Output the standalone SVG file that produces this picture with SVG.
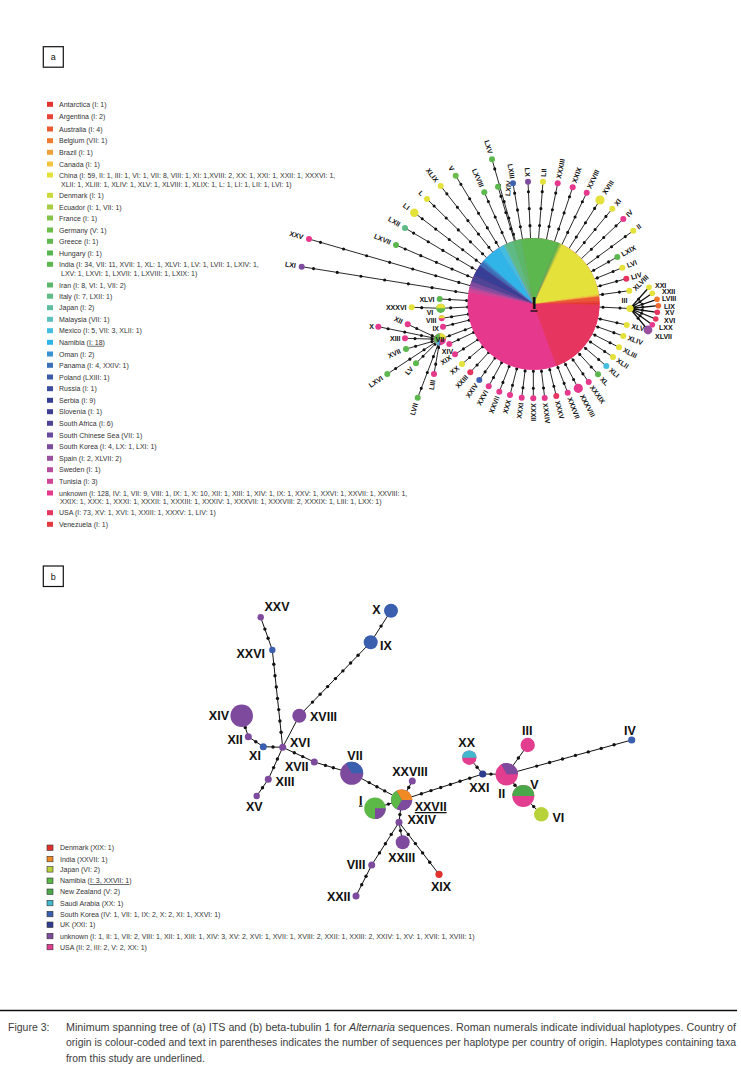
<svg xmlns="http://www.w3.org/2000/svg" width="741" height="1072" viewBox="0 0 741 1072">
<style>
text{font-family:"Liberation Sans",Arial,Helvetica,sans-serif}
.lg{font-size:7px;fill:#333}
.la{font-size:7px;font-weight:bold;fill:#111}
.lb{font-size:12.5px;font-weight:bold;fill:#111}
.e{text-anchor:end}
.m{text-anchor:middle}
.sp{stroke:#111;stroke-width:0.9;fill:none}
.dt{stroke:#111;stroke-width:3.1;stroke-linecap:round;stroke-dasharray:0 17;stroke-dashoffset:7;fill:none}
.dl{stroke-dasharray:0 24;stroke-dashoffset:12}
.fan{stroke:#111;stroke-width:1.3;fill:none}
.bl{stroke:#111;stroke-width:1;fill:none}
.dk{fill:#111}
.cap{font-size:10.5px;fill:#3c3c3c}
.box{fill:#fff;stroke:#111;stroke-width:1.2}
.sq{stroke:#333;stroke-width:0.6}
.pk{fill:#e6388c}.us{fill:#e6365f}.yl{fill:#e4e23a}.gr{fill:#5cb84e}.pu{fill:#7e4c9f}.bu{fill:#3f62b0}.cy{fill:#45bde0}.og{fill:#ef7a2e}.tl{fill:#5ebb86}.sn{fill:#9b4f9f}.de{fill:#6dbd4c}
.bp{fill:#7e4a9e}.bb{fill:#3a5fae}
</style>

<!-- panel labels -->
<g id="label-a"><rect class="box" x="43.3" y="46.7" width="20" height="20.5"/><text x="53.3" y="60" class="m" font-size="9" fill="#111">a</text></g>
<g id="label-b"><rect class="box" x="43.3" y="566" width="20" height="20.5"/><text x="53.3" y="579.5" class="m" font-size="9" fill="#111">b</text></g>

<!-- legend a -->
<g id="legend-a">
<rect x="47" y="101.8" width="6" height="5" fill="#e2342f"/><text class="lg" x="59" y="106.8">Antarctica (I: 1)</text>
<rect x="47" y="114.2" width="6" height="5" fill="#e8453a"/><text class="lg" x="59" y="119.2">Argentina (I: 2)</text>
<rect x="47" y="126.5" width="6" height="5" fill="#ea5a32"/><text class="lg" x="59" y="131.5">Australia (I: 4)</text>
<rect x="47" y="138.2" width="6" height="5" fill="#ee7d31"/><text class="lg" x="59" y="143.2">Belgium (VII: 1)</text>
<rect x="47" y="149.8" width="6" height="5" fill="#f0a03a"/><text class="lg" x="59" y="154.8">Brazil (I: 1)</text>
<rect x="47" y="161.5" width="6" height="5" fill="#f3c43d"/><text class="lg" x="59" y="166.5">Canada (I: 1)</text>
<rect x="47" y="172.5" width="6" height="5" fill="#e4e23a"/><text class="lg" x="59" y="177.5">China (I: 59, II: 1, III: 1, VI: 1, VII: 8, VIII: 1, XI: 1,XVIII: 2, XX: 1, XXI: 1, XXII: 1, XXXVI: 1,</text>
<text class="lg" x="61" y="186.8">XLII: 1, XLIII: 1, XLIV: 1, XLV: 1, XLVIII: 1, XLIX: 1, L: 1, LI: 1, LII: 1, LVI: 1)</text>
<rect x="47" y="192.8" width="6" height="5" fill="#c9d93b"/><text class="lg" x="59" y="197.8">Denmark (I: 1)</text>
<rect x="47" y="204.5" width="6" height="5" fill="#a8cd43"/><text class="lg" x="59" y="209.5">Ecuador (I: 1, VII: 1)</text>
<rect x="47" y="215.5" width="6" height="5" fill="#86c349"/><text class="lg" x="59" y="220.5">France (I: 1)</text>
<rect x="47" y="227.5" width="6" height="5" fill="#6dbd4c"/><text class="lg" x="59" y="232.5">Germany (V: 1)</text>
<rect x="47" y="238.8" width="6" height="5" fill="#5fb84d"/><text class="lg" x="59" y="243.8">Greece (I: 1)</text>
<rect x="47" y="250.5" width="6" height="5" fill="#57b44f"/><text class="lg" x="59" y="255.5">Hungary (I: 1)</text>
<rect x="47" y="261.8" width="6" height="5" fill="#5cb84e"/><text class="lg" x="59" y="266.8">India (I: 34, VII: 11, XVII: 1, XL: 1, XLVI: 1, LV: 1, LVII: 1, LXIV: 1,</text>
<text class="lg" x="61" y="276.2">LXV: 1, LXVI: 1, LXVII: 1, LXVIII: 1, LXIX: 1)</text>
<rect x="47" y="282.5" width="6" height="5" fill="#5cb76a"/><text class="lg" x="59" y="287.5">Iran (I: 8, VI: 1, VII: 2)</text>
<rect x="47" y="293.7" width="6" height="5" fill="#5ebb86"/><text class="lg" x="59" y="298.7">Italy (I: 7, LXII: 1)</text>
<rect x="47" y="305.2" width="6" height="5" fill="#60bea0"/><text class="lg" x="59" y="310.2">Japan (I: 2)</text>
<rect x="47" y="316.8" width="6" height="5" fill="#5cc1bd"/><text class="lg" x="59" y="321.8">Malaysia (VII: 1)</text>
<rect x="47" y="328.2" width="6" height="5" fill="#45bde0"/><text class="lg" x="59" y="333.2">Mexico (I: 5, VII: 3, XLII: 1)</text>
<rect x="47" y="339.8" width="6" height="5" fill="#31b5e8"/><text class="lg" x="59" y="344.8">Namibia (<tspan text-decoration="underline">I: 18</tspan>)</text>
<rect x="47" y="351.5" width="6" height="5" fill="#3a91cf"/><text class="lg" x="59" y="356.5">Oman (I: 2)</text>
<rect x="47" y="362.8" width="6" height="5" fill="#3b70b8"/><text class="lg" x="59" y="367.8">Panama (I: 4, XXIV: 1)</text>
<rect x="47" y="374.5" width="6" height="5" fill="#3b5ba8"/><text class="lg" x="59" y="379.5">Poland (LXIII: 1)</text>
<rect x="47" y="386.2" width="6" height="5" fill="#3b4d9e"/><text class="lg" x="59" y="391.2">Russia (I: 1)</text>
<rect x="47" y="397.8" width="6" height="5" fill="#363f95"/><text class="lg" x="59" y="402.8">Serbia (I: 9)</text>
<rect x="47" y="409.2" width="6" height="5" fill="#3f3f94"/><text class="lg" x="59" y="414.2">Slovenia (I: 1)</text>
<rect x="47" y="420.8" width="6" height="5" fill="#4e4597"/><text class="lg" x="59" y="425.8">South Africa (I: 6)</text>
<rect x="47" y="432.5" width="6" height="5" fill="#664a9c"/><text class="lg" x="59" y="437.5">South Chinese Sea (VII: 1)</text>
<rect x="47" y="444.2" width="6" height="5" fill="#7e4c9f"/><text class="lg" x="59" y="449.2">South Korea (I: 4, LX: 1, LXI: 1)</text>
<rect x="47" y="455.8" width="6" height="5" fill="#9b4f9f"/><text class="lg" x="59" y="460.8">Spain (I: 2, XLVII: 2)</text>
<rect x="47" y="467.2" width="6" height="5" fill="#b54c9e"/><text class="lg" x="59" y="472.2">Sweden (I: 1)</text>
<rect x="47" y="478.8" width="6" height="5" fill="#cf4596"/><text class="lg" x="59" y="483.8">Tunisia (I: 3)</text>
<rect x="47" y="490.5" width="6" height="5" fill="#e6388c"/><text class="lg" x="59" y="495.5">unknown (I: 128, IV: 1, VII: 9, VIII: 1, IX: 1, X: 10, XII: 1, XIII: 1, XIV: 1, IX: 1, XXV: 1, XXVI: 1,  XXVII: 1, XXVIII: 1,</text>
<text class="lg" x="60" y="504.2">XXIX: 1, XXX: 1, XXXI: 1, XXXII: 1, XXXIII: 1, XXXIV: 1, XXXVII: 1, XXXVIII: 2, XXXIX: 1, LIII: 1, LXX: 1)</text>
<rect x="47" y="510.2" width="6" height="5" fill="#e6365f"/><text class="lg" x="59" y="515.2">USA (I: 73, XV: 1, XVI: 1, XXIII: 1, XXXV: 1, LIV: 1)</text>
<rect x="47" y="521.8" width="6" height="5" fill="#e33a3f"/><text class="lg" x="59" y="526.8">Venezuela (I: 1)</text>
</g>

<!-- connectors panel a -->
<g id="connectors-a">
<path class="sp" d="M533.5 304L309 239M533.5 304L301.7 266.7M533.5 304L396 245M533.5 304L405 228M533.5 304L414.3 212.7M533.5 304L427 199M533.5 304L440.7 186M533.5 304L455.7 175.7M533.5 304L484.3 192.3M533.5 304L492 159.3M533.5 304L498 186.7M533.5 304L513 183.3M533.5 304L528 181.7M533.5 304L543 181.7M533.5 304L557.7 183.3M533.5 304L572.7 187.3M533.5 304L586.7 192.7M533.5 304L600 200M533.5 304L612.3 208.7M533.5 304L623.3 219M533.5 304L633.3 230.7M533.5 304L617.3 257M533.5 304L622.3 267.7M533.5 304L626.3 278.7M533.5 304L629.3 290.7M533.5 304L630 308.5M533.5 304L626.7 325M533.5 304L623.3 336M533.5 304L619 347.3M533.5 304L613 357M533.5 304L606.3 366M533.5 304L598 374.3M533.5 304L588.7 382M533.5 304L578.3 388.3M533.5 304L567.7 392.7M533.5 304L556.3 396M533.5 304L544.7 398M533.5 304L533.3 398.3M533.5 304L521.7 397.7M533.5 304L510 395M533.5 304L499.3 391.7M533.5 304L488.7 386.3M533.5 304L479.3 380M533.5 304L470.3 372.3M533.5 304L462 364M533.5 304L455 354.3M533.5 304L449.3 344M533.5 304L440 339.3M533.5 304L443 326.7M533.5 304L441.7 318.3M533.5 304L440.7 308.3M533.5 304L439.7 299M440.7 308.3L411.7 307.3M440 339.3L378.3 326.7M440 339.3L407.7 324.3M440 339.3L405 338.3M440 339.3L406 349M440 339.3L387.3 374M440 339.3L416 363.3M440 339.3L417.7 397.7M440 339.3L434 374"/>
<path class="fan" d="M630 308.5L649 287.3M630 308.5L652.3 293.3M630 308.5L657 299.3M630 308.5L658.3 305.7M630 308.5L657.3 312.3M630 308.5L655.7 319M630 308.5L652.3 324.7M630 308.5L648 330"/>
<line class="dt dl" x1="309" y1="239" x2="533.5" y2="304"/>
<line class="dt dl" x1="301.7" y1="266.7" x2="533.5" y2="304"/>
<line class="dt" x1="396" y1="245" x2="533.5" y2="304"/>
<line class="dt" x1="405" y1="228" x2="533.5" y2="304"/>
<line class="dt" x1="414.3" y1="212.7" x2="533.5" y2="304"/>
<line class="dt" x1="427" y1="199" x2="533.5" y2="304"/>
<line class="dt" x1="440.7" y1="186" x2="533.5" y2="304"/>
<line class="dt" x1="455.7" y1="175.7" x2="533.5" y2="304"/>
<line class="dt" x1="484.3" y1="192.3" x2="533.5" y2="304"/>
<line class="dt" x1="492" y1="159.3" x2="533.5" y2="304"/>
<line class="dt" x1="498" y1="186.7" x2="533.5" y2="304"/>
<line class="dt" x1="513" y1="183.3" x2="533.5" y2="304"/>
<line class="dt" x1="528" y1="181.7" x2="533.5" y2="304"/>
<line class="dt" x1="543" y1="181.7" x2="533.5" y2="304"/>
<line class="dt" x1="557.7" y1="183.3" x2="533.5" y2="304"/>
<line class="dt" x1="572.7" y1="187.3" x2="533.5" y2="304"/>
<line class="dt" x1="586.7" y1="192.7" x2="533.5" y2="304"/>
<line class="dt" x1="600" y1="200" x2="533.5" y2="304"/>
<line class="dt" x1="612.3" y1="208.7" x2="533.5" y2="304"/>
<line class="dt" x1="623.3" y1="219" x2="533.5" y2="304"/>
<line class="dt" x1="633.3" y1="230.7" x2="533.5" y2="304"/>
<line class="dt" x1="617.3" y1="257" x2="533.5" y2="304"/>
<line class="dt" x1="622.3" y1="267.7" x2="533.5" y2="304"/>
<line class="dt" x1="626.3" y1="278.7" x2="533.5" y2="304"/>
<line class="dt" x1="629.3" y1="290.7" x2="533.5" y2="304"/>
<line class="dt" x1="630" y1="308.5" x2="533.5" y2="304"/>
<line class="dt" x1="626.7" y1="325" x2="533.5" y2="304"/>
<line class="dt" x1="623.3" y1="336" x2="533.5" y2="304"/>
<line class="dt" x1="619" y1="347.3" x2="533.5" y2="304"/>
<line class="dt" x1="613" y1="357" x2="533.5" y2="304"/>
<line class="dt" x1="606.3" y1="366" x2="533.5" y2="304"/>
<line class="dt" x1="598" y1="374.3" x2="533.5" y2="304"/>
<line class="dt" x1="588.7" y1="382" x2="533.5" y2="304"/>
<line class="dt" x1="578.3" y1="388.3" x2="533.5" y2="304"/>
<line class="dt" x1="567.7" y1="392.7" x2="533.5" y2="304"/>
<line class="dt" x1="556.3" y1="396" x2="533.5" y2="304"/>
<line class="dt" x1="544.7" y1="398" x2="533.5" y2="304"/>
<line class="dt" x1="533.3" y1="398.3" x2="533.5" y2="304"/>
<line class="dt" x1="521.7" y1="397.7" x2="533.5" y2="304"/>
<line class="dt" x1="510" y1="395" x2="533.5" y2="304"/>
<line class="dt" x1="499.3" y1="391.7" x2="533.5" y2="304"/>
<line class="dt" x1="488.7" y1="386.3" x2="533.5" y2="304"/>
<line class="dt" x1="479.3" y1="380" x2="533.5" y2="304"/>
<line class="dt" x1="470.3" y1="372.3" x2="533.5" y2="304"/>
<line class="dt" x1="462" y1="364" x2="533.5" y2="304"/>
<line class="dt" x1="455" y1="354.3" x2="533.5" y2="304"/>
<line class="dt" x1="449.3" y1="344" x2="533.5" y2="304"/>
<line class="dt" x1="440" y1="339.3" x2="533.5" y2="304"/>
<line class="dt" x1="443" y1="326.7" x2="533.5" y2="304"/>
<line class="dt" x1="441.7" y1="318.3" x2="533.5" y2="304"/>
<line class="dt" x1="440.7" y1="308.3" x2="533.5" y2="304"/>
<line class="dt" x1="439.7" y1="299" x2="533.5" y2="304"/>
<line class="dt" x1="411.7" y1="307.3" x2="440.7" y2="308.3"/>
<line class="dt" x1="378.3" y1="326.7" x2="440" y2="339.3"/>
<line class="dt" x1="407.7" y1="324.3" x2="440" y2="339.3"/>
<line class="dt" x1="405" y1="338.3" x2="440" y2="339.3"/>
<line class="dt" x1="406" y1="349" x2="440" y2="339.3"/>
<line class="dt" x1="387.3" y1="374" x2="440" y2="339.3"/>
<line class="dt" x1="416" y1="363.3" x2="440" y2="339.3"/>
<line class="dt" x1="417.7" y1="397.7" x2="440" y2="339.3"/>
<line class="dt" x1="434" y1="374" x2="440" y2="339.3"/>
<g class="dk">
<circle cx="638.6" cy="299" r="1.5"/><circle cx="640" cy="301.7" r="1.5"/><circle cx="642.2" cy="304.3" r="1.5"/><circle cx="642.7" cy="307.2" r="1.5"/><circle cx="642.3" cy="310.2" r="1.5"/><circle cx="641.6" cy="313.2" r="1.5"/><circle cx="640" cy="315.8" r="1.5"/><circle cx="638.1" cy="318.2" r="1.5"/>
</g>
</g>

<!-- haplotype I (panel a) -->
<g id="a-node-I">
<circle cx="533.5" cy="304" r="66" fill="#e6388c"/>
<g transform="translate(533.5 304) scale(1 -1)" fill="none" stroke-width="66.2">
<circle r="33" pathLength="382" stroke="#e2342f" stroke-dasharray="1.4 400"/>
<circle r="33" pathLength="382" stroke="#e8453a" stroke-dasharray="2.4 400" stroke-dashoffset="-1"/>
<circle r="33" pathLength="382" stroke="#ea5a32" stroke-dasharray="4.4 400" stroke-dashoffset="-3"/>
<circle r="33" pathLength="382" stroke="#f0a03a" stroke-dasharray="1.4 400" stroke-dashoffset="-7"/>
<circle r="33" pathLength="382" stroke="#f3c43d" stroke-dasharray="1.4 400" stroke-dashoffset="-8"/>
<circle r="33" pathLength="382" stroke="#e4e23a" stroke-dasharray="59.4 400" stroke-dashoffset="-9"/>
<circle r="33" pathLength="382" stroke="#c9d93b" stroke-dasharray="1.4 400" stroke-dashoffset="-68"/>
<circle r="33" pathLength="382" stroke="#a8cd43" stroke-dasharray="1.4 400" stroke-dashoffset="-69"/>
<circle r="33" pathLength="382" stroke="#86c349" stroke-dasharray="1.4 400" stroke-dashoffset="-70"/>
<circle r="33" pathLength="382" stroke="#5fb84d" stroke-dasharray="1.4 400" stroke-dashoffset="-71"/>
<circle r="33" pathLength="382" stroke="#57b44f" stroke-dasharray="1.4 400" stroke-dashoffset="-72"/>
<circle r="33" pathLength="382" stroke="#5cb84e" stroke-dasharray="34.4 400" stroke-dashoffset="-73"/>
<circle r="33" pathLength="382" stroke="#5cb76a" stroke-dasharray="8.4 400" stroke-dashoffset="-107"/>
<circle r="33" pathLength="382" stroke="#5ebb86" stroke-dasharray="7.4 400" stroke-dashoffset="-115"/>
<circle r="33" pathLength="382" stroke="#60bea0" stroke-dasharray="2.4 400" stroke-dashoffset="-122"/>
<circle r="33" pathLength="382" stroke="#45bde0" stroke-dasharray="5.4 400" stroke-dashoffset="-124"/>
<circle r="33" pathLength="382" stroke="#31b5e8" stroke-dasharray="18.4 400" stroke-dashoffset="-129"/>
<circle r="33" pathLength="382" stroke="#3a91cf" stroke-dasharray="2.4 400" stroke-dashoffset="-147"/>
<circle r="33" pathLength="382" stroke="#3b70b8" stroke-dasharray="4.4 400" stroke-dashoffset="-149"/>
<circle r="33" pathLength="382" stroke="#3b4d9e" stroke-dasharray="1.4 400" stroke-dashoffset="-153"/>
<circle r="33" pathLength="382" stroke="#363f95" stroke-dasharray="9.4 400" stroke-dashoffset="-154"/>
<circle r="33" pathLength="382" stroke="#3f3f94" stroke-dasharray="1.4 400" stroke-dashoffset="-163"/>
<circle r="33" pathLength="382" stroke="#4e4597" stroke-dasharray="6.4 400" stroke-dashoffset="-164"/>
<circle r="33" pathLength="382" stroke="#7e4c9f" stroke-dasharray="4.4 400" stroke-dashoffset="-170"/>
<circle r="33" pathLength="382" stroke="#9b4f9f" stroke-dasharray="2.4 400" stroke-dashoffset="-174"/>
<circle r="33" pathLength="382" stroke="#b54c9e" stroke-dasharray="1.4 400" stroke-dashoffset="-176"/>
<circle r="33" pathLength="382" stroke="#cf4596" stroke-dasharray="3.4 400" stroke-dashoffset="-177"/>
<circle r="33" pathLength="382" stroke="#e6365f" stroke-dasharray="73.4 400" stroke-dashoffset="-308"/>
<circle r="33" pathLength="382" stroke="#e33a3f" stroke-dasharray="1 400" stroke-dashoffset="-381"/>
</g>
<text x="534" y="309" class="m" font-size="17" font-weight="bold" fill="#111">I</text>
<line x1="530.5" y1="311" x2="537.5" y2="311" stroke="#111" stroke-width="1.4"/>
</g>

<!-- haplotype nodes (panel a) -->
<g id="a-nodes">
<g id="a-XXV"><circle cx="309" cy="239" r="3" class="pk"/><text class="la e" transform="translate(303.2 237.3) rotate(16.1)" dy=".35em">XXV</text></g>
<g id="a-LXI"><circle cx="301.7" cy="266.7" r="3" class="pu"/><text class="la e" transform="translate(295.8 265.7) rotate(9.1)" dy=".35em">LXI</text></g>
<g id="a-LXVII"><circle cx="396" cy="245" r="3" class="gr"/><text class="la e" transform="translate(390.5 242.6) rotate(23.2)" dy=".35em">LXVII</text></g>
<g id="a-LXII"><circle cx="405" cy="228" r="3" class="tl"/><text class="la e" transform="translate(399.8 224.9) rotate(30.6)" dy=".35em">LXII</text></g>
<g id="a-LI"><circle cx="414.3" cy="212.7" r="4.2" class="yl"/><text class="la e" transform="translate(408.7 208.4) rotate(37.5)" dy=".35em">LI</text></g>
<g id="a-L"><circle cx="427" cy="199" r="3" class="yl"/><text class="la e" transform="translate(422.7 194.8) rotate(44.6)" dy=".35em">L</text></g>
<g id="a-XLIX"><circle cx="440.7" cy="186" r="3" class="yl"/><text class="la e" transform="translate(437 181.3) rotate(51.8)" dy=".35em">XLIX</text></g>
<g id="a-V"><circle cx="455.7" cy="175.7" r="3" class="de"/><text class="la e" transform="translate(452.6 170.6) rotate(58.8)" dy=".35em">V</text></g>
<g id="a-LXVIII"><circle cx="484.3" cy="192.3" r="3" class="gr"/><text class="la e" transform="translate(481.9 186.8) rotate(66.2)" dy=".35em">LXVIII</text></g>
<g id="a-LXV"><circle cx="492" cy="159.3" r="3" class="gr"/><text class="la e" transform="translate(490.3 153.5) rotate(74)" dy=".35em">LXV</text></g>
<g id="a-LXIV"><circle cx="498" cy="186.7" r="3" class="gr"/><text class="la" transform="translate(507.5 196) rotate(-84)" dy=".35em">LXIV</text></g>
<g id="a-LXIII"><circle cx="513" cy="183.3" r="3" class="bu"/><text class="la e" transform="translate(512.3 178.4) rotate(80.4)" dy=".35em">LXIII</text></g>
<g id="a-LX"><circle cx="528" cy="181.7" r="3" class="pu"/><text class="la e" transform="translate(527.7 176.7) rotate(87.4)" dy=".35em">LX</text></g>
<g id="a-LII"><circle cx="543" cy="181.7" r="3" class="yl"/><text class="la" transform="translate(543.4 176.7) rotate(-85.6)" dy=".35em">LII</text></g>
<g id="a-XXXIII"><circle cx="557.7" cy="183.3" r="3" class="pk"/><text class="la" transform="translate(558.7 178.4) rotate(-78.7)" dy=".35em">XXXIII</text></g>
<g id="a-XXIX"><circle cx="572.7" cy="187.3" r="3" class="pk"/><text class="la" transform="translate(574.3 182.6) rotate(-71.4)" dy=".35em">XXIX</text></g>
<g id="a-XXVIII"><circle cx="586.7" cy="192.7" r="3" class="pk"/><text class="la" transform="translate(588.9 188.2) rotate(-64.5)" dy=".35em">XXVIII</text></g>
<g id="a-XVIII"><circle cx="600" cy="200" r="4.6" class="yl"/><text class="la" transform="translate(604 193.7) rotate(-57.4)" dy=".35em">XVIII</text></g>
<g id="a-XI"><circle cx="612.3" cy="208.7" r="3" class="yl"/><text class="la" transform="translate(615.5 204.9) rotate(-50.4)" dy=".35em">XI</text></g>
<g id="a-IV"><circle cx="623.3" cy="219" r="3" class="pk"/><text class="la" transform="translate(627 215.6) rotate(-43.4)" dy=".35em">IV</text></g>
<g id="a-II"><circle cx="633.3" cy="230.7" r="3" class="yl"/><text class="la" transform="translate(637.3 227.7) rotate(-36.3)" dy=".35em">II</text></g>
<g id="a-LXIX"><circle cx="617.3" cy="257" r="3" class="gr"/><text class="la" transform="translate(621.7 254.6) rotate(-29.3)" dy=".35em">LXIX</text></g>
<g id="a-LVI"><circle cx="622.3" cy="267.7" r="3" class="yl"/><text class="la" transform="translate(627 265.8) rotate(-22.2)" dy=".35em">LVI</text></g>
<g id="a-LIV"><circle cx="626.3" cy="278.7" r="3" class="us"/><text class="la" transform="translate(631.1 277.4) rotate(-15.3)" dy=".35em">LIV</text></g>
<g id="a-XLVIII"><circle cx="629.3" cy="290.7" r="3" class="yl"/><text class="la" transform="translate(634 289.5) rotate(-45)" dy=".35em">XLVIII</text></g>
<g id="a-III"><circle cx="630" cy="308.5" r="3.6" class="yl"/><text class="la m" x="624.5" y="303.2">III</text></g>
<g id="a-XXI"><circle cx="649" cy="287.3" r="2.8" class="yl"/><text class="la" x="655" y="287.5">XXI</text></g>
<g id="a-XXII"><circle cx="652.3" cy="293.3" r="2.8" class="yl"/><text class="la" x="662" y="293.5">XXII</text></g>
<g id="a-LVIII"><circle cx="657" cy="299.3" r="2.8" class="og"/><text class="la" x="662" y="300.8">LVIII</text></g>
<g id="a-LIX"><circle cx="658.3" cy="305.7" r="2.8" fill="#ec6a2e"/><text class="la" x="664" y="308.5">LIX</text></g>
<g id="a-XV"><circle cx="657.3" cy="312.3" r="2.8" class="us"/><text class="la" x="665" y="315.2">XV</text></g>
<g id="a-XVI"><circle cx="655.7" cy="319" r="2.8" class="us"/><text class="la" x="664" y="322.5">XVI</text></g>
<g id="a-LXX"><circle cx="652.3" cy="324.7" r="2.8" class="pk"/><text class="la" x="659" y="329.8">LXX</text></g>
<g id="a-XLVII"><circle cx="648" cy="330" r="4.4" class="sn"/><text class="la" x="655" y="339.2">XLVII</text></g>
<g id="a-XLV"><circle cx="626.7" cy="325" r="3" class="yl"/><text class="la" transform="translate(631.6 326.1) rotate(12.7)" dy=".35em">XLV</text></g>
<g id="a-XLIV"><circle cx="623.3" cy="336" r="3" class="yl"/><text class="la" transform="translate(628 337.7) rotate(19.6)" dy=".35em">XLIV</text></g>
<g id="a-XLIII"><circle cx="619" cy="347.3" r="3" class="yl"/><text class="la" transform="translate(623.5 349.6) rotate(26.9)" dy=".35em">XLIII</text></g>
<g id="a-XLII"><circle cx="613" cy="357" r="3" class="yl"/><text class="la" transform="translate(617.2 359.8) rotate(33.7)" dy=".35em">XLII</text></g>
<g id="a-XLI"><circle cx="606.3" cy="366" r="3" class="cy"/><text class="la" transform="translate(610.1 369.2) rotate(40.4)" dy=".35em">XLI</text></g>
<g id="a-XL"><circle cx="598" cy="374.3" r="3" class="gr"/><text class="la" transform="translate(601.4 378) rotate(47.5)" dy=".35em">XL</text></g>
<g id="a-XXXIX"><circle cx="588.7" cy="382" r="3" class="pk"/><text class="la" transform="translate(591.6 386.1) rotate(54.7)" dy=".35em">XXXIX</text></g>
<g id="a-XXXVIII"><circle cx="578.3" cy="388.3" r="4.6" class="pk"/><text class="la" transform="translate(581.8 394.9) rotate(62)" dy=".35em">XXXVIII</text></g>
<g id="a-XXXVII"><circle cx="567.7" cy="392.7" r="3" class="pk"/><text class="la" transform="translate(569.5 397.4) rotate(68.9)" dy=".35em">XXXVII</text></g>
<g id="a-XXXV"><circle cx="556.3" cy="396" r="3" class="us"/><text class="la" transform="translate(557.5 400.9) rotate(76.1)" dy=".35em">XXXV</text></g>
<g id="a-XXXIV"><circle cx="544.7" cy="398" r="3" class="pk"/><text class="la" transform="translate(545.3 403) rotate(83.2)" dy=".35em">XXXIV</text></g>
<g id="a-XXXII"><circle cx="533.3" cy="398.3" r="3" class="pk"/><text class="la" transform="translate(533.3 403.3) rotate(90)" dy=".35em">XXXII</text></g>
<g id="a-XXXI"><circle cx="521.7" cy="397.7" r="3" class="pk"/><text class="la e" transform="translate(521.1 402.7) rotate(-82.8)" dy=".35em">XXXI</text></g>
<g id="a-XXX"><circle cx="510" cy="395" r="3" class="pk"/><text class="la e" transform="translate(508.7 399.8) rotate(-75.5)" dy=".35em">XXX</text></g>
<g id="a-XXVII"><circle cx="499.3" cy="391.7" r="3" class="pk"/><text class="la e" transform="translate(497.5 396.4) rotate(-68.7)" dy=".35em">XXVII</text></g>
<g id="a-XXVI"><circle cx="488.7" cy="386.3" r="3" class="pk"/><text class="la e" transform="translate(486.3 390.7) rotate(-61.4)" dy=".35em">XXVI</text></g>
<g id="a-XXIV"><circle cx="479.3" cy="380" r="3" class="bu"/><text class="la e" transform="translate(476.4 384.1) rotate(-54.5)" dy=".35em">XXIV</text></g>
<g id="a-XXIII"><circle cx="470.3" cy="372.3" r="3" class="us"/><text class="la e" transform="translate(466.9 376) rotate(-47.2)" dy=".35em">XXIII</text></g>
<g id="a-XX"><circle cx="462" cy="364" r="3" class="yl"/><text class="la e" transform="translate(458.2 367.2) rotate(-40)" dy=".35em">XX</text></g>
<g id="a-XIX"><circle cx="455" cy="354.3" r="3" class="pk"/><text class="la e" transform="translate(450.8 357) rotate(-32.6)" dy=".35em">XIX</text></g>
<g id="a-XIV"><circle cx="449.3" cy="344" r="3" class="pk"/><text class="la m" x="447.5" y="353.5">XIV</text></g>
<g id="a-IX"><circle cx="443" cy="326.7" r="3" class="pk"/><text class="la e" x="439" y="330.8">IX</text></g>
<g id="a-VIII"><circle cx="441.7" cy="318.3" r="3" class="pk"/><path d="M438.7 318.3A3 3 0 0 1 444.7 318.3Z" class="yl"/><text class="la e" x="436.5" y="323.2">VIII</text></g>
<g id="a-VI"><circle cx="440.7" cy="308.3" r="4.6" class="gr"/><path d="M436.1 308.3A4.6 4.6 0 0 1 445.3 308.3Z" class="yl"/><text class="la m" x="430" y="314.8">VI</text></g>
<g id="a-XLVI"><circle cx="439.7" cy="299" r="3" class="gr"/><text class="la e" x="434.5" y="301.5">XLVI</text></g>
<g id="a-XXXVI"><circle cx="411.7" cy="307.3" r="3" class="yl"/><text class="la e" x="406.5" y="309.8">XXXVI</text></g>
<g id="a-X"><circle cx="378.3" cy="326.7" r="3" class="pk"/><text class="la e" x="374" y="329.2">X</text></g>
<g id="a-XII"><circle cx="407.7" cy="324.3" r="3" class="pk"/><text class="la e" transform="translate(402.3 321.8) rotate(25)" dy=".35em">XII</text></g>
<g id="a-XIII"><circle cx="405" cy="338.3" r="3" class="pk"/><text class="la e" x="400.5" y="340.8">XIII</text></g>
<g id="a-XVII"><circle cx="406" cy="349" r="3" class="gr"/><text class="la e" transform="translate(400.2 350.6) rotate(-25)" dy=".35em">XVII</text></g>
<g id="a-LXVI"><circle cx="387.3" cy="374" r="3" class="gr"/><text class="la e" transform="translate(382.3 377.3) rotate(-33.4)" dy=".35em">LXVI</text></g>
<g id="a-LV"><circle cx="416" cy="363.3" r="3" class="gr"/><text class="la e" transform="translate(411.8 367.5) rotate(-50)" dy=".35em">LV</text></g>
<g id="a-LVII"><circle cx="417.7" cy="397.7" r="3" class="gr"/><text class="la e" transform="translate(415.6 403.3) rotate(-75)" dy=".35em">LVII</text></g>
<g id="a-LIII"><circle cx="434" cy="374" r="3" class="pk"/><text class="la e" transform="translate(433 379.9) rotate(-80.2)" dy=".35em">LIII</text></g>
<g id="a-VII">
<circle cx="440" cy="339.3" r="6" class="pk"/>
<g transform="translate(440 339.3) scale(1 -1)" fill="none" stroke-width="6">
<circle r="3" pathLength="37" stroke="#ee7d31" stroke-dasharray="1.2 40"/>
<circle r="3" pathLength="37" stroke="#e4e23a" stroke-dasharray="8.2 40" stroke-dashoffset="-1"/>
<circle r="3" pathLength="37" stroke="#a8cd43" stroke-dasharray="1.2 40" stroke-dashoffset="-9"/>
<circle r="3" pathLength="37" stroke="#5cb84e" stroke-dasharray="11.2 40" stroke-dashoffset="-10"/>
<circle r="3" pathLength="37" stroke="#5cb76a" stroke-dasharray="2.2 40" stroke-dashoffset="-21"/>
<circle r="3" pathLength="37" stroke="#5cc1bd" stroke-dasharray="1.2 40" stroke-dashoffset="-23"/>
<circle r="3" pathLength="37" stroke="#45bde0" stroke-dasharray="3.2 40" stroke-dashoffset="-24"/>
<circle r="3" pathLength="37" stroke="#664a9c" stroke-dasharray="1.2 40" stroke-dashoffset="-27"/>
</g>
<text class="la m" x="440" y="341.8">VII</text>
</g>
</g>

<!-- legend b -->
<g id="legend-b">
<rect class="sq" x="47" y="845" width="6" height="5.5" fill="#e0312c"/><text class="lg" x="60" y="850.2">Denmark (XIX: 1)</text>
<rect class="sq" x="47" y="856.3" width="6" height="5.5" fill="#f08a24"/><text class="lg" x="60" y="861.5">India (XXVII: 1)</text>
<rect class="sq" x="47" y="866.6" width="6" height="5.5" fill="#b8d23a"/><text class="lg" x="60" y="871.8">Japan (VI: 2)</text>
<rect class="sq" x="47" y="878" width="6" height="5.5" fill="#5cb847"/><text class="lg" x="60" y="883.2">Namibia (<tspan text-decoration="underline">I: 3, XXVII: 1</tspan>)</text>
<rect class="sq" x="47" y="889" width="6" height="5.5" fill="#4aa84a"/><text class="lg" x="60" y="894.2">New Zealand (V: 2)</text>
<rect class="sq" x="47" y="900.3" width="6" height="5.5" fill="#42b8cc"/><text class="lg" x="60" y="905.5">Saudi Arabia (XX: 1)</text>
<rect class="sq" x="47" y="911.3" width="6" height="5.5" fill="#3a5fae"/><text class="lg" x="60" y="916.5">South Korea (IV: 1, VII: 1, IX: 2, X: 2, XI: 1, XXVI: 1)</text>
<rect class="sq" x="47" y="922" width="6" height="5.5" fill="#2e3c8e"/><text class="lg" x="60" y="927.2">UK (XXI: 1)</text>
<rect class="sq" x="47" y="933.3" width="6" height="5.5" fill="#7e4a9e"/><text class="lg" x="60" y="938.5">unknown (I: 1, II: 1, VII: 2, VIII: 1, XII: 1, XIII: 1, XIV: 3, XV: 2, XVI: 1, XVII: 1, XVIII: 2, XXII: 1, XXIII: 2, XXIV: 1, XV: 1, XVII: 1, XVIII: 1)</text>
<rect class="sq" x="47" y="944.3" width="6" height="5.5" fill="#e23d8e"/><text class="lg" x="60" y="949.5">USA (II: 2, III: 2, V: 2, XX: 1)</text>
</g>

<!-- connectors panel b -->
<g id="connectors-b">
<path class="bl" d="M260.7 617.3L272.3 650L282.7 747.3L299.3 715.7L370.7 642.3L391 610.7M282.7 747.3L263.3 746.7L248.3 736.7L241.7 715.7M282.7 747.3L268.3 779.3L256.7 796M282.7 747.3L314.3 762L351.7 773.3L401.7 800M375 808.3L401.7 800M412.3 781L401.7 800L399 822.3L402.7 842.3M399 822.3L371.7 865L356 896M399 822.3L439 874.3M401.7 800L482.7 774L469.3 757.7M482.7 774L506.7 774.3L527.7 745M506.7 774.3L523.3 796L541.3 814.3M506.7 774.3L631.7 740"/>
<g class="dk">
<circle cx="264.9" cy="629.1" r="1.7"/><circle cx="268.1" cy="638.2" r="1.7"/>
<circle cx="273.8" cy="664.3" r="1.7"/><circle cx="275" cy="675.7" r="1.7"/><circle cx="276.3" cy="687" r="1.7"/><circle cx="277.5" cy="698.4" r="1.7"/><circle cx="278.7" cy="709.6" r="1.7"/><circle cx="279.9" cy="721" r="1.7"/><circle cx="281.1" cy="732.3" r="1.7"/>
<circle cx="312.5" cy="702.1" r="1.7"/><circle cx="320.1" cy="694.3" r="1.7"/><circle cx="327.6" cy="686.6" r="1.7"/><circle cx="335.4" cy="678.6" r="1.7"/><circle cx="342.9" cy="670.9" r="1.7"/><circle cx="350.6" cy="663" r="1.7"/><circle cx="358.1" cy="655.2" r="1.7"/>
<circle cx="381.1" cy="626.1" r="1.7"/>
<circle cx="273" cy="747" r="1.7"/><circle cx="255.8" cy="741.7" r="1.7"/><circle cx="245.3" cy="727.5" r="1.7"/>
<circle cx="277.4" cy="759" r="1.7"/><circle cx="273.6" cy="767.6" r="1.7"/><circle cx="262.5" cy="787.7" r="1.7"/>
<circle cx="294.3" cy="752.7" r="1.7"/><circle cx="302.7" cy="756.6" r="1.7"/>
<circle cx="325.5" cy="765.4" r="1.7"/><circle cx="333.3" cy="767.8" r="1.7"/>
<circle cx="369.2" cy="782.6" r="1.7"/><circle cx="376.9" cy="786.8" r="1.7"/><circle cx="384.7" cy="790.9" r="1.7"/>
<circle cx="388.4" cy="804.1" r="1.7"/><circle cx="408.7" cy="787.5" r="1.7"/><circle cx="399.9" cy="814.6" r="1.7"/><circle cx="400.5" cy="830.6" r="1.7"/>
<circle cx="391.2" cy="834.4" r="1.7"/><circle cx="385.4" cy="843.7" r="1.7"/><circle cx="379.5" cy="852.9" r="1.7"/>
<circle cx="366" cy="876.2" r="1.7"/><circle cx="361.7" cy="884.8" r="1.7"/>
<circle cx="408.3" cy="834.4" r="1.7"/><circle cx="415.4" cy="843.6" r="1.7"/><circle cx="422.6" cy="852.9" r="1.7"/><circle cx="429.7" cy="862.2" r="1.7"/>
<circle cx="421.4" cy="793.7" r="1.7"/><circle cx="431" cy="790.6" r="1.7"/><circle cx="440.7" cy="787.5" r="1.7"/><circle cx="450.4" cy="784.4" r="1.7"/><circle cx="460" cy="781.3" r="1.7"/><circle cx="469.7" cy="778.2" r="1.7"/>
<circle cx="477.1" cy="767.2" r="1.7"/><circle cx="491" cy="774.1" r="1.7"/><circle cx="518.4" cy="758" r="1.7"/><circle cx="515" cy="785.2" r="1.7"/><circle cx="533.7" cy="806.6" r="1.7"/>
<circle cx="536.7" cy="766.1" r="1.7"/><circle cx="549.6" cy="762.5" r="1.7"/><circle cx="562.5" cy="759" r="1.7"/><circle cx="575.4" cy="755.4" r="1.7"/><circle cx="588.3" cy="751.9" r="1.7"/><circle cx="601.2" cy="748.4" r="1.7"/><circle cx="614.1" cy="744.8" r="1.7"/>
</g>
</g>

<!-- nodes panel b -->
<g id="b-nodes">
<g id="b-XXV"><circle cx="260.7" cy="617.3" r="3.2" class="bp"/><text class="lb m" x="277" y="611">XXV</text></g>
<g id="b-XXVI"><circle cx="272.3" cy="650" r="3.2" class="bb"/><text class="lb e" x="265" y="657.8">XXVI</text></g>
<g id="b-X"><circle cx="391" cy="610.7" r="7" class="bb"/><text class="lb e" x="380.5" y="613.5">X</text></g>
<g id="b-IX"><circle cx="370.7" cy="642.3" r="7" class="bb"/><text class="lb" x="380" y="649.5">IX</text></g>
<g id="b-XVIII"><circle cx="299.3" cy="715.7" r="7" class="bp"/><text class="lb" x="310" y="721">XVIII</text></g>
<g id="b-XIV"><circle cx="241.7" cy="715.7" r="11.3" class="bp"/><text class="lb e" x="229" y="720">XIV</text></g>
<g id="b-XII"><circle cx="248.3" cy="736.7" r="3.5" class="bp"/><text class="lb e" x="242.8" y="743.8">XII</text></g>
<g id="b-XI"><circle cx="263.3" cy="746.7" r="3.5" class="bb"/><text class="lb m" x="255" y="760">XI</text></g>
<g id="b-XVI"><circle cx="282.7" cy="747.3" r="3.5" class="bp"/><text class="lb" x="290" y="747">XVI</text></g>
<g id="b-XVII"><circle cx="314.3" cy="762" r="3.5" class="bp"/><text class="lb m" x="296.7" y="771">XVII</text></g>
<g id="b-XIII"><circle cx="268.3" cy="779.3" r="3.5" class="bp"/><text class="lb" x="275.6" y="786">XIII</text></g>
<g id="b-XV"><circle cx="256.7" cy="796" r="3.2" class="bp"/><text class="lb m" x="254.3" y="811">XV</text></g>
<g id="b-VII"><circle cx="351.7" cy="773.3" r="11.5" class="bp"/><g transform="translate(351.7 773.3) scale(1 -1)" fill="none" stroke-width="11.5"><circle r="5.75" pathLength="3" stroke="#3a5fae" stroke-dasharray="1 5"/></g><text class="lb m" x="355" y="760">VII</text></g>
<g id="b-XXVIII"><circle cx="412.3" cy="781" r="3.5" class="bp"/><text class="lb m" x="410" y="776">XXVIII</text></g>
<g id="b-XXVII"><circle cx="401.7" cy="800" r="10.6" class="bp"/><g transform="translate(401.7 800) scale(1 -1)" fill="none" stroke-width="10.6"><circle r="5.3" pathLength="3" stroke="#f08a24" stroke-dasharray="1 5"/><circle r="5.3" pathLength="3" stroke="#5cb847" stroke-dasharray="1 5" stroke-dashoffset="-1"/></g><text class="lb" x="414.7" y="811" text-decoration="underline">XXVII</text></g>
<g id="b-I"><circle cx="375" cy="808.3" r="10.8" fill="#5cb847"/><g transform="translate(375 808.3) scale(1 -1)" fill="none" stroke-width="10.8"><circle r="5.4" pathLength="4" stroke="#7e4a9e" stroke-dasharray="1 6" stroke-dashoffset="-3"/></g><text class="lb m" x="360.7" y="804.5" text-decoration="underline">I</text></g>
<g id="b-XXIV"><circle cx="399" cy="822.3" r="3.5" class="bp"/><text class="lb" x="407.5" y="824">XXIV</text></g>
<g id="b-XXIII"><circle cx="402.7" cy="842.3" r="7" class="bp"/><text class="lb m" x="401.7" y="862">XXIII</text></g>
<g id="b-VIII"><circle cx="371.7" cy="865" r="3.5" class="bp"/><text class="lb e" x="365.4" y="868.5">VIII</text></g>
<g id="b-XXII"><circle cx="356" cy="896" r="3.5" class="bp"/><text class="lb e" x="350.5" y="901">XXII</text></g>
<g id="b-XIX"><circle cx="439" cy="874.3" r="3.6" fill="#e0312c"/><text class="lb m" x="441" y="890.5">XIX</text></g>
<g id="b-XX"><circle cx="469.3" cy="757.7" r="7.2" fill="#e23d8e"/><path d="M462.1 757.7A7.2 7.2 0 0 1 476.5 757.7Z" fill="#42b8cc"/><text class="lb m" x="466.7" y="747">XX</text></g>
<g id="b-XXI"><circle cx="482.7" cy="774" r="3.6" fill="#2e3c8e"/><text class="lb m" x="479.3" y="792">XXI</text></g>
<g id="b-II"><circle cx="506.7" cy="774.3" r="11.2" fill="#e23d8e"/><g transform="translate(506.7 774.3) scale(1 -1)" fill="none" stroke-width="11.2"><circle r="5.6" pathLength="3" stroke="#7e4a9e" stroke-dasharray="1 5"/></g><text class="lb m" x="501.7" y="797.8">II</text></g>
<g id="b-III"><circle cx="527.7" cy="745" r="7.2" fill="#e23d8e"/><text class="lb m" x="527.3" y="735">III</text></g>
<g id="b-V"><circle cx="523.3" cy="796" r="11" fill="#e23d8e"/><path d="M512.3 796A11 11 0 0 1 534.3 796Z" fill="#4aa84a"/><text class="lb m" x="534.5" y="788.5">V</text></g>
<g id="b-VI"><circle cx="541.3" cy="814.3" r="7.3" fill="#b8d23a"/><text class="lb m" x="558.3" y="821.8">VI</text></g>
<g id="b-IV"><circle cx="631.7" cy="740" r="3.6" class="bb"/><text class="lb m" x="630" y="734.5">IV</text></g>
</g>

<!-- frame and caption -->
<line x1="0" y1="1010.5" x2="737" y2="1010.5" stroke="#111" stroke-width="1.5"/>
<g id="caption">
<text class="cap" x="8" y="1030.5">Figure 3:</text>
<text class="cap" x="66" y="1030.5" textLength="670" lengthAdjust="spacingAndGlyphs">Minimum spanning tree of (a) ITS and (b) beta-tubulin 1 for <tspan font-style="italic">Alternaria</tspan> sequences. Roman numerals indicate individual haplotypes. Country of</text>
<text class="cap" x="66" y="1046" textLength="670" lengthAdjust="spacingAndGlyphs">origin is colour-coded and text in parentheses indicates the number of sequences per haplotype per country of origin. Haplotypes containing taxa</text>
<text class="cap" x="66" y="1061.5" textLength="139" lengthAdjust="spacingAndGlyphs">from this study are underlined.</text>
</g>
</svg>
